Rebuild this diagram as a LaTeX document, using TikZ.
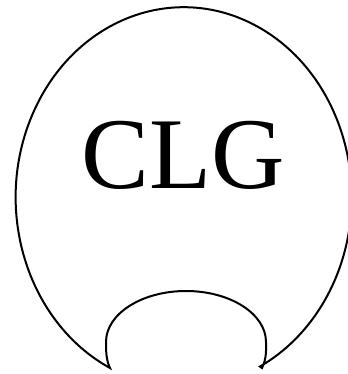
\documentclass[tikz,border=0pt]{standalone}
\usepackage{fontspec}
\setmainfont{Liberation Serif}
\begin{document}
\begin{tikzpicture}[x=1bp,y=1bp,outline/.style={line width=2bp,line join=miter},every node/.style={inner sep=0pt}]
\useasboundingbox (0,0) rectangle (348,374); \clip (0,0) rectangle (348,374);
\coordinate (lcusp) at (110,6); \coordinate (rcusp) at (262,6);
\draw[outline] (lcusp) arc[start angle=244,end angle=-63,x radius=168,y radius=190] -- (rcusp) .. controls (267,16) and (266,26) .. (266,32) arc[start angle=0,end angle=180,x radius=80,y radius=51] .. controls (106,24) and (106,14) .. (lcusp) -- cycle;
\node[anchor=base,font=\fontsize{102}{102}\selectfont] (clg) at (183,186) {CLG};
\end{tikzpicture}
\end{document}
